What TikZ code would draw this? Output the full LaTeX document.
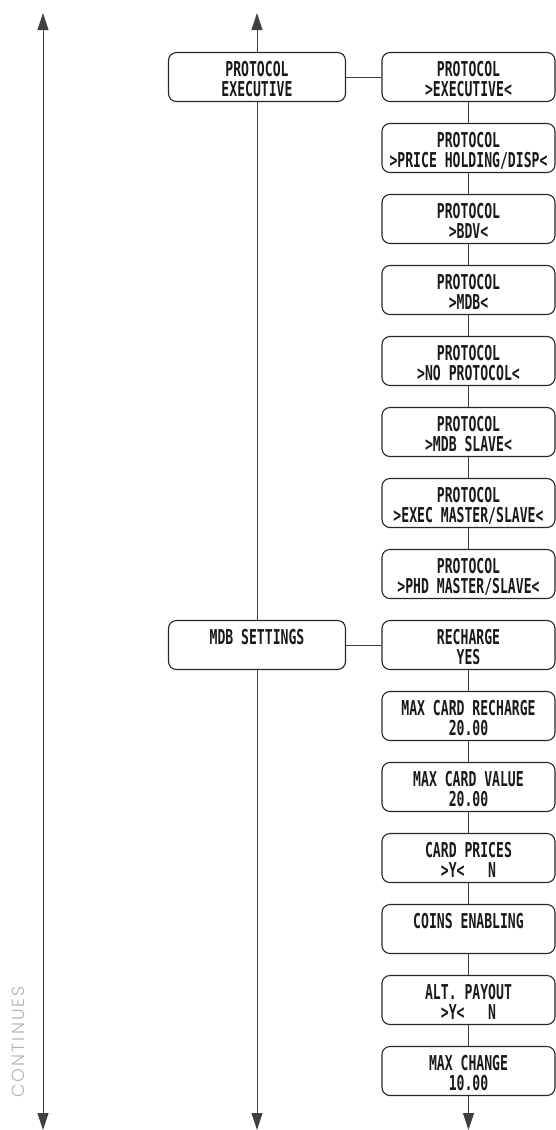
\documentclass[tikz,border=0pt]{standalone}
\usepackage{fontspec}
\newfontfamily\lcdfont[FakeStretch=0.64]{DejaVu Sans Mono}
\newfontfamily\contfont[UprightFont=* Light, LetterSpace=12]{Poppins}
\usetikzlibrary{arrows.meta,calc}
\newcommand\twolines[2]{\vtop{\baselineskip=20pt\lineskiplimit=-30pt\lineskip=0pt
  \hbox to 0pt{\hss#1\hss}\hbox to 0pt{\hss#2\hss}}}
\newcommand\oneline[1]{\hbox to 0pt{\hss#1\hss}}
\begin{document}
\begin{tikzpicture}[x=1pt,y=-1pt,
  boxbase/.style={draw=black!85, line width=1.1pt, rounded corners=8pt, minimum height=49pt, inner sep=0pt},
  rbox/.style={boxbase, minimum width=173pt},
  lbox/.style={boxbase, minimum width=177pt},
  txt/.style={font=\lcdfont\bfseries\fontsize{20.5}{20}\selectfont, inner sep=0pt, anchor=base, text=black!90},
  conn/.style={draw=black!75, line width=0.9pt},
  arr/.style={conn, -{Triangle[length=17pt,width=11pt]}},
  cont/.style={font=\contfont\fontsize{17.5}{18}\selectfont, text=black!30, inner sep=0pt}
]
\useasboundingbox (0,0) rectangle (556,1130);

% right column boxes
\foreach \i/\a/\b in {1/PROTOCOL/{>EXECUTIVE<},
  2/PROTOCOL/{>PRICE HOLDING/DISP<},
  3/PROTOCOL/{>BDV<},
  4/PROTOCOL/{>MDB<},
  5/PROTOCOL/{>NO PROTOCOL<},
  6/PROTOCOL/{>MDB SLAVE<},
  7/PROTOCOL/{>EXEC MASTER/SLAVE<},
  8/PROTOCOL/{>PHD MASTER/SLAVE<},
  9/RECHARGE/YES,
  10/{MAX CARD RECHARGE}/{20.00},
  11/{MAX CARD VALUE}/{20.00},
  12/{CARD PRICES}/{>Y<\ \ \ N},
  14/{ALT. PAYOUT}/{>Y<\ \ \ N},
  15/{MAX CHANGE}/{10.00}}{
  \node[rbox] (r\i) at (468.5,{77+71*(\i-1)}) {};
  \node[txt] (r\i t) at ($(r\i.north)+(0,24.5)$) {\twolines{\a}{\b}};
}
\node[rbox] (r13) at (468.5,{77+71*12}) {};
\node[txt] (r13t) at ($(r13.north)+(0,24.5)$) {\oneline{COINS ENABLING}};

% left column boxes
\node[lbox] (l1) at (257,77) {};
\node[txt] (l1t) at ($(l1.north)+(0,24.5)$) {\twolines{PROTOCOL}{EXECUTIVE}};
\node[lbox] (l2) at (257,{77+71*8}) {};
\node[txt] (l2t) at ($(l2.north)+(0,24.5)$) {\oneline{MDB SETTINGS}};

% coordinates for free ends
\coordinate (lt) at (43,13);
\coordinate (lb) at (43,1130);
\coordinate (mt) at (257,13);
\coordinate (mb) at (257,1130);
\coordinate (rb) at (468.5,1130);

% long left arrow
\draw[conn, {Triangle[length=17pt,width=11pt]}-{Triangle[length=17pt,width=11pt]}] (lt) -- (lb);

% middle column
\draw[arr] (l1) -- (mt);
\draw[conn] (l1) -- (l2);
\draw[arr] (l2) -- (mb);

% horizontal links
\draw[conn] (l1) -- (r1);
\draw[conn] (l2) -- (r9);

% right column chains
\foreach \i [evaluate=\i as \j using int(\i+1)] in {1,...,7}{
  \draw[conn] (r\i) -- (r\j);
}
\foreach \i [evaluate=\i as \j using int(\i+1)] in {9,...,14}{
  \draw[conn] (r\i) -- (r\j);
}
\draw[arr] (r15) -- (rb);

% side label
\node[cont, rotate=90] (contlabel) at (18,1042) {CONTINUES};
\end{tikzpicture}
\end{document}
